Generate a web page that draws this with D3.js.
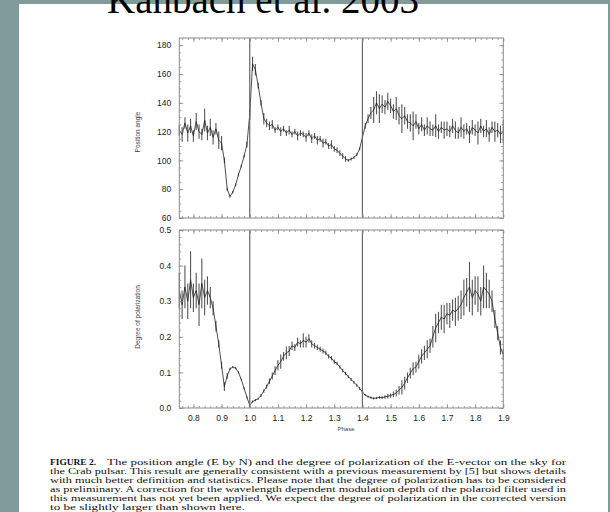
<!DOCTYPE html>
<html>
<head>
<meta charset="utf-8">
<script src="https://cdn.jsdelivr.net/npm/d3@7"></script>
<style>
    html, body { margin: 0; padding: 0; background: #7f9c9a; }
    svg { display: block; }
</style>
</head>
<body>
<svg id="drawing_region"></svg>
<script>
// phase bins (0.01 wide)
const phase = [0.75,0.76,0.77,0.78,0.79,0.80,0.81,0.82,0.83,0.84,0.85,0.86,0.87,0.88,0.89,
    0.90,0.91,0.92,0.93,0.94,0.95,0.96,0.97,0.98,0.99,
    1.00,1.01,1.02,1.03,1.04,1.05,1.06,1.07,1.08,1.09,
    1.10,1.11,1.12,1.13,1.14,1.15,1.16,1.17,1.18,1.19,
    1.20,1.21,1.22,1.23,1.24,1.25,1.26,1.27,1.28,1.29,
    1.30,1.31,1.32,1.33,1.34,1.35,1.36,1.37,1.38,1.39,
    1.40,1.41,1.42,1.43,1.44,1.45,1.46,1.47,1.48,1.49,
    1.50,1.51,1.52,1.53,1.54,1.55,1.56,1.57,1.58,1.59,
    1.60,1.61,1.62,1.63,1.64,1.65,1.66,1.67,1.68,1.69,
    1.70,1.71,1.72,1.73,1.74,1.75,1.76,1.77,1.78,1.79,
    1.80,1.81,1.82,1.83,1.84,1.85,1.86,1.87,1.88,1.89,1.90];

// position angle (deg)
const angle = [121,118,126,119,124,117,127,120,118,128,119,123,116,122,114,
    112,100,80,75,78,83,90,96,103,111,
    132,167,163,152,140,129,126,124,125,121,
    123,120,122,119,121,118,120,117,119,118,
    116,119,115,117,114,115,112,113,110,111,
    108,107,105,103,101,100,101,102,104,108,
    116,124,129,133,135,140,136,139,137,141,
    138,134,136,131,129,131,127,126,124,127,
    122,125,121,124,122,121,124,120,123,121,
    122,120,124,121,119,123,120,122,118,123,
    121,119,124,120,122,118,123,120,121,118,120];
const angle_err = [4,5,4,6,5,4,6,5,4,8,5,6,5,4,6,
    5,2,1,1,1,1,1,1,1,2,
    4,5,4,2,2,4,3,3,3,2,
    2,3,2,2,3,2,2,3,2,2,
    3,2,3,2,3,2,3,2,2,3,
    2,2,2,2,2,1,1,1,1,1,
    1,2,3,4,9,8,10,6,5,6,
    5,5,8,6,10,6,5,6,10,5,
    4,5,4,6,5,4,8,5,4,6,
    5,4,5,6,4,7,5,4,6,5,
    4,8,5,4,6,5,4,7,5,6,8];

// degree of polarization
const pol = [0.33,0.29,0.34,0.30,0.36,0.31,0.33,0.29,0.35,0.31,0.33,0.31,0.28,0.23,0.18,
    0.12,0.06,0.09,0.11,0.115,0.112,0.10,0.08,0.055,0.03,
    0.008,0.018,0.022,0.026,0.035,0.048,0.06,0.075,0.09,0.105,
    0.12,0.13,0.145,0.155,0.16,0.175,0.17,0.185,0.18,0.19,
    0.185,0.195,0.18,0.175,0.17,0.165,0.16,0.155,0.145,0.14,
    0.13,0.125,0.115,0.105,0.097,0.088,0.08,0.072,0.064,0.055,
    0.045,0.036,0.032,0.029,0.027,0.028,0.03,0.029,0.031,0.033,
    0.035,0.038,0.042,0.05,0.058,0.07,0.085,0.098,0.11,0.115,
    0.13,0.145,0.155,0.165,0.175,0.2,0.225,0.24,0.255,0.25,
    0.265,0.26,0.275,0.27,0.28,0.29,0.31,0.325,0.34,0.31,
    0.33,0.32,0.30,0.34,0.33,0.32,0.30,0.25,0.21,0.17,0.15];
const pol_err = [0.05,0.04,0.06,0.05,0.08,0.04,0.05,0.06,0.07,0.05,0.04,0.03,
    0.02,0.015,0.01,0.01,
    0.012,0.008,0.004,0.003,0.003,0.003,0.003,0.003,0.003,0.003,0.003,0.003,0.003,0.004,0.005,0.006,0.008,0.01,0.012,
    0.015,0.02,0.012,0.018,0.014,0.012,0.01,0.012,0.01,0.02,0.015,0.012,0.01,0.008,0.008,0.007,0.007,0.006,0.006,0.006,
    0.006,0.005,0.005,0.005,0.005,0.004,0.004,0.004,0.004,0.004,0.004,0.003,0.003,0.003,0.003,0.003,0.004,0.004,0.005,0.006,
    0.006,0.008,0.01,0.012,0.02,0.018,0.015,0.015,0.018,0.015,0.02,0.02,0.02,0.025,0.02,0.03,0.04,0.03,0.035,0.04,
    0.03,0.035,0.03,0.04,0.035,0.04,0.05,0.04,0.07,0.05,0.04,0.05,0.04,0.06,0.05,0.04,0.03,0.025,0.02,0.02,0.015];

// tick labels
const phase_ticks = [0.8,0.9,1.0,1.1,1.2,1.3,1.4,1.5,1.6,1.7,1.8,1.9];
const angle_ticks = [60,80,100,120,140,160,180];
const pol_ticks = [0.0,0.1,0.2,0.3,0.4,0.5];
const marker_phases = [1.0,1.4];

const caption = [
    "The position angle (E by N) and the degree of polarization of the E-vector on the sky for",
    "the Crab pulsar. This result are generally consistent with a previous measurement by [5] but shows details",
    "with much better definition and statistics. Please note that the degree of polarization has to be considered",
    "as preliminary. A correction for the wavelength dependent modulation depth of the polaroid filter used in",
    "this measurement has not yet been applied. We expect the degree of polarization in the corrected version",
    "to be slightly larger than shown here."
];

var config = {
    width: 610,
    height: 512,
    left: 179.3,
    right: 503.3,
    top_panel: { top: 38, bottom: 218 },
    bottom_panel: { top: 230, bottom: 408 }
};

const svg = d3.select('#drawing_region')
    .attr('width', config.width)
    .attr('height', config.height);

svg.append('rect')
    .attr('width', config.width).attr('height', config.height)
    .attr('fill', '#7f9c9a');

svg.append('rect')
    .attr('x', 19).attr('y', 4)
    .attr('width', 589).attr('height', 508)
    .attr('fill', '#ffffff');

svg.append('text')
    .attr('x', 107).attr('y', 13)
    .attr('font-family', '"Liberation Serif", "Times New Roman", serif')
    .attr('font-size', '39px')
    .attr('fill', '#000')
    .text('Kanbach et al. 2003');

const xscale = d3.scaleLinear()
    .domain([0.75, 1.9])
    .range([config.left, config.right]);

function draw_panel(p, yscale, values, errors, yticks, yminor, yfmt, show_x) {
    const g = svg.append('g');
    const minor_x = d3.range(38, 96).map(i => i * 0.02).filter(v => v >= 0.75 && v <= 1.9);

    // data: error bars then line
    g.append('g').selectAll('line').data(phase).join('line')
        .attr('x1', (d, i) => xscale(d)).attr('x2', (d, i) => xscale(d))
        .attr('y1', (d, i) => yscale(values[i] - errors[i]))
        .attr('y2', (d, i) => yscale(values[i] + errors[i]))
        .attr('stroke', '#555')
        .attr('stroke-width', 1.1);

    const line = d3.line()
        .x((d, i) => xscale(d))
        .y((d, i) => yscale(values[i]));

    g.append('path')
        .datum(phase)
        .attr('d', line)
        .attr('fill', 'none')
        .attr('stroke', '#222')
        .attr('stroke-width', 0.8);

    // phase markers
    g.selectAll('.marker').data(marker_phases).join('line')
        .attr('class', 'marker')
        .attr('x1', d => xscale(d)).attr('x2', d => xscale(d))
        .attr('y1', p.top).attr('y2', p.bottom)
        .attr('stroke', '#666')
        .attr('stroke-width', 1.2);

    // frame
    g.append('rect')
        .attr('x', config.left).attr('y', p.top)
        .attr('width', config.right - config.left)
        .attr('height', p.bottom - p.top)
        .attr('fill', 'none')
        .attr('stroke', '#8a8a8a')
        .attr('stroke-width', 1);

    const axes = [
        [d3.axisLeft(yscale).tickValues(yticks).tickSize(-4).tickPadding(8).tickFormat(yfmt), `translate(${config.left},0)`],
        [d3.axisLeft(yscale).tickValues(yminor).tickSize(-2).tickFormat(''), `translate(${config.left},0)`],
        [d3.axisRight(yscale).tickValues(yticks).tickSize(-4).tickFormat(''), `translate(${config.right},0)`],
        [d3.axisRight(yscale).tickValues(yminor).tickSize(-2).tickFormat(''), `translate(${config.right},0)`],
        [d3.axisTop(xscale).tickValues(phase_ticks).tickSize(-4).tickFormat(''), `translate(0,${p.top})`],
        [d3.axisTop(xscale).tickValues(minor_x).tickSize(-2).tickFormat(''), `translate(0,${p.top})`],
        [d3.axisBottom(xscale).tickValues(phase_ticks).tickSize(-4).tickPadding(7)
            .tickFormat(show_x ? d3.format('.1f') : ''), `translate(0,${p.bottom})`],
        [d3.axisBottom(xscale).tickValues(minor_x).tickSize(-2).tickFormat(''), `translate(0,${p.bottom})`]
    ];

    axes.forEach(a => {
        const ag = g.append('g').attr('transform', a[1]).call(a[0]);
        ag.select('.domain').remove();
        ag.selectAll('line').attr('stroke', '#8a8a8a').attr('stroke-width', 0.8);
        ag.selectAll('text')
            .attr('font-family', '"Liberation Sans", Arial, sans-serif')
            .attr('font-size', '8.5px')
            .attr('fill', '#222');
    });
}

const y_angle = d3.scaleLinear()
    .domain([60, 185])
    .range([config.top_panel.bottom, config.top_panel.top]);

const y_pol = d3.scaleLinear()
    .domain([0, 0.5])
    .range([config.bottom_panel.bottom, config.bottom_panel.top]);

draw_panel(config.top_panel, y_angle, angle, angle_err, angle_ticks,
    d3.range(12, 37).map(i => i * 5), d3.format('d'), false);
draw_panel(config.bottom_panel, y_pol, pol, pol_err, pol_ticks,
    d3.range(0, 26).map(i => i * 0.02), d3.format('.1f'), true);

// axis titles
const small_font = '"Liberation Sans", Arial, sans-serif';
svg.append('text')
    .attr('transform', 'translate(140, 132) rotate(-90)')
    .attr('text-anchor', 'middle')
    .attr('font-family', small_font).attr('font-size', '6.5px').attr('fill', '#444')
    .text('Position angle');
svg.append('text')
    .attr('transform', 'translate(140, 317) rotate(-90)')
    .attr('text-anchor', 'middle')
    .attr('font-family', small_font).attr('font-size', '6.5px').attr('fill', '#444')
    .text('Degree of polarization');
svg.append('text')
    .attr('x', 346).attr('y', 431)
    .attr('text-anchor', 'middle')
    .attr('font-family', small_font).attr('font-size', '6px').attr('fill', '#444')
    .text('Phase');

// caption (glyphs stretched a little wider, as on the slide)
const cap = svg.append('g')
    .attr('font-family', '"Liberation Serif", "Times New Roman", serif')
    .attr('font-size', '8.8px')
    .attr('fill', '#111');

cap.append('text')
    .attr('x', 50).attr('y', 465)
    .attr('font-weight', 'bold')
    .attr('textLength', 46).attr('lengthAdjust', 'spacingAndGlyphs')
    .text('FIGURE 2.');

caption.forEach((t, i) => {
    const x0 = i == 0 ? 107 : 50;
    const x1 = i == caption.length - 1 ? 245 : 566;
    cap.append('text')
        .attr('x', x0).attr('y', 465 + i * 8.9)
        .attr('textLength', x1 - x0)
        .attr('lengthAdjust', 'spacingAndGlyphs')
        .text(t);
});
</script>
</body>
</html>
